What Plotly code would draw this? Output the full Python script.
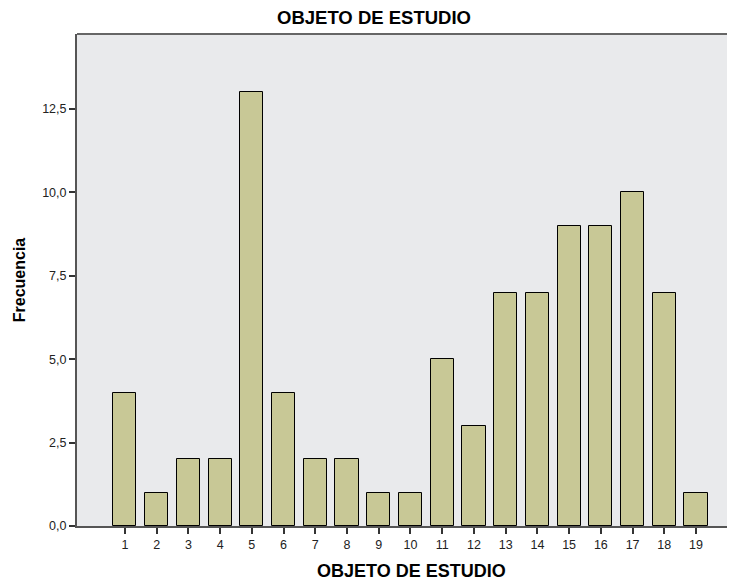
import plotly.graph_objects as go

categories = [str(i) for i in range(1, 20)]
frecuencia = [4, 1, 2, 2, 13, 4, 2, 2, 1, 1, 5, 3, 7, 7, 9, 9, 10, 7, 1]
y_ticks = [0, 2.5, 5, 7.5, 10, 12.5]

W, H = 735, 574
L = 69

fig = go.Figure(go.Bar(
    x=list(range(1, 20)), y=frecuencia,
    marker=dict(color="#c8c896", line=dict(color="#000000", width=1)),
    width=0.73,
))

fig.update_layout(
    width=W, height=H,
    margin=dict(l=L, r=0, t=26, b=56),
    paper_bgcolor="white", plot_bgcolor="#e9eaec",
    separators=",.",
    font=dict(family="Liberation Sans, Arial, sans-serif", size=12.5, color="#222"),
    title=dict(text="<b>OBJETO DE ESTUDIO</b>", x=366/W, xref="container", xanchor="center",
               y=1 - 10/H, yref="container", yanchor="middle", font=dict(size=18.5, color="#000")),
    showlegend=False,
    bargap=0,
)
fig.update_xaxes(
    range=[-0.51, 20.48], tickmode="array", tickvals=list(range(1, 20)), ticktext=categories,
    ticks="outside", ticklen=6, tickcolor="#333", tickwidth=1.5,
    showline=True, linecolor="#555", linewidth=2, showgrid=False, zeroline=False,
)
fig.update_yaxes(
    range=[0, 14.75], tickmode="array", tickvals=y_ticks, tickformat=".1f",
    ticks="outside", ticklen=6, tickcolor="#333", tickwidth=1.5,
    showline=True, linecolor="#555", linewidth=2, showgrid=False, zeroline=False,
    title=dict(text="<b>Frecuencia</b>", font=dict(size=16, color="#000"), standoff=13),
)
fig.add_annotation(text="<b>OBJETO DE ESTUDIO</b>", xref="paper", yref="paper",
                   x=334 / (W - L), y=0, xanchor="center", yanchor="middle",
                   yshift=-45, showarrow=False, font=dict(size=18, color="#000"))
fig.add_shape(type="line", xref="paper", yref="paper", x0=0, x1=1, y0=1, y1=1,
              line=dict(color="#666", width=2))

fig.write_html("out.html")
